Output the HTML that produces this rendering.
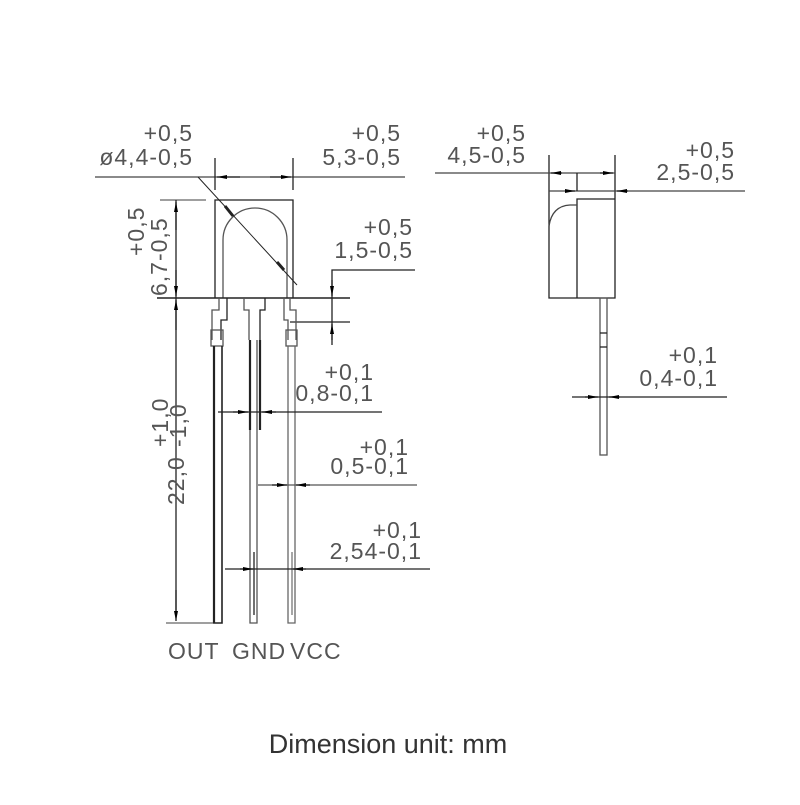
<!DOCTYPE html>
<html><head><meta charset="utf-8"><style>
body{margin:0;background:#fff}
svg text{font-family:"Liberation Sans",sans-serif;fill:#555;font-size:23px}
</style></head><body>
<svg width="800" height="800" viewBox="0 0 800 800" xmlns="http://www.w3.org/2000/svg">
<defs>
<marker id="a" viewBox="0 0 10 4" refX="10" refY="2" markerWidth="10" markerHeight="4" orient="auto" markerUnits="userSpaceOnUse"><path d="M0,0L10,2L0,4z" fill="#000"/></marker>
</defs>
<g stroke="#222" stroke-width="1.3" fill="none">
<path d="M215,298V200H293V298"/>
<path d="M223,298V240A32,32 0 0 1 287,240V298" stroke="#555"/>
<line x1="157" y1="298" x2="350" y2="298" stroke-width="1.6"/>
<line x1="95" y1="177" x2="405" y2="177" stroke="#444"/>
<line x1="215" y1="158" x2="215" y2="190"/>
<line x1="293" y1="158" x2="293" y2="190"/>
<line x1="240" y1="177" x2="217" y2="177" marker-end="url(#a)"/>
<line x1="270" y1="177" x2="291" y2="177" marker-end="url(#a)"/>
<line x1="198" y1="177" x2="297" y2="285" stroke-width="1"/>
<line x1="225" y1="206" x2="233" y2="216" stroke-width="3"/>
<line x1="277" y1="262" x2="284" y2="270" stroke-width="3"/>
<line x1="160" y1="200" x2="206" y2="200" stroke="#666"/>
<line x1="176" y1="200" x2="176" y2="615"/>
<line x1="176" y1="230" x2="176" y2="202" marker-end="url(#a)"/>
<line x1="176" y1="270" x2="176" y2="296" marker-end="url(#a)"/>
<line x1="176" y1="330" x2="176" y2="300" marker-end="url(#a)"/>
<line x1="176" y1="590" x2="176" y2="621" marker-end="url(#a)"/>
<line x1="166" y1="623" x2="214" y2="623" stroke="#666"/>
<path d="M415,270H332V345"/>
<line x1="290" y1="322" x2="350" y2="322"/>
<line x1="332" y1="280" x2="332" y2="296" marker-end="url(#a)"/>
<line x1="332" y1="340" x2="332" y2="324" marker-end="url(#a)"/>
<path d="M219,298V310H212V340" stroke="#555"/>
<path d="M227,298V320H221V340"/>
<path d="M244,298V310H249V340" stroke="#555"/>
<path d="M265,298V310H260V340"/>
<path d="M284,298V320H288V340" stroke="#555"/>
<path d="M290,298V310H296V340" stroke="#555"/>
<rect x="211" y="330" width="12" height="16" stroke="#555"/>
<rect x="286" y="330" width="11" height="16" stroke="#555"/>
<path d="M214,346V623H222V346" stroke-width="1.6"/>
<line x1="214" y1="346" x2="214" y2="623" stroke-width="2.2"/>
<path d="M250,340V623H257V340" stroke="#555"/>
<line x1="250" y1="340" x2="250" y2="430" stroke-width="2.2"/>
<line x1="260" y1="340" x2="260" y2="430" stroke-width="2.2"/>
<line x1="254" y1="552" x2="254" y2="615"/>
<path d="M288,346V623H295V346" stroke="#666"/>
<line x1="292" y1="552" x2="292" y2="615" stroke="#777"/>
<line x1="218" y1="412" x2="382" y2="412"/>
<line x1="233" y1="412" x2="248" y2="412" marker-end="url(#a)"/>
<line x1="276" y1="412" x2="262" y2="412" marker-end="url(#a)"/>
<line x1="258" y1="485" x2="417" y2="485" stroke="#555"/>
<line x1="272" y1="485" x2="287" y2="485" marker-end="url(#a)"/>
<line x1="310" y1="485" x2="296" y2="485" marker-end="url(#a)"/>
<line x1="225" y1="569" x2="430" y2="569"/>
<line x1="240" y1="569" x2="253" y2="569" marker-end="url(#a)"/>
<line x1="306" y1="569" x2="293" y2="569" marker-end="url(#a)"/>
<path d="M549,155V298H615V155"/>
<path d="M577,298V199H615" />
<path d="M549,226Q552,206 570,205H577" stroke="#444"/>
<line x1="435" y1="173" x2="615" y2="173" stroke="#444"/>
<line x1="549" y1="191" x2="745" y2="191" stroke="#444"/>
<line x1="577" y1="173" x2="577" y2="191"/>
<line x1="562" y1="173" x2="551" y2="173" marker-end="url(#a)"/>
<line x1="600" y1="173" x2="613" y2="173" marker-end="url(#a)"/>
<line x1="565" y1="191" x2="575" y2="191" marker-end="url(#a)"/>
<line x1="628" y1="191" x2="617" y2="191" marker-end="url(#a)"/>
<rect x="600" y="298" width="7" height="157" stroke="#555"/>
<line x1="600" y1="333" x2="607" y2="333"/>
<line x1="600" y1="347" x2="607" y2="347"/>
<line x1="572" y1="397" x2="727" y2="397"/>
<line x1="585" y1="397" x2="598" y2="397" marker-end="url(#a)"/>
<line x1="620" y1="397" x2="609" y2="397" marker-end="url(#a)"/>
</g>
<g text-anchor="end" letter-spacing="1">
<text x="193" y="141">+0,5</text>
<text x="193" y="165">ø4,4-0,5</text>
<text x="401" y="141">+0,5</text>
<text x="401" y="165">5,3-0,5</text>
<text x="413" y="235">+0,5</text>
<text x="413" y="258">1,5-0,5</text>
<text x="374" y="380">+0,1</text>
<text x="374" y="401">0,8-0,1</text>
<text x="409" y="455">+0,1</text>
<text x="409" y="474">0,5-0,1</text>
<text x="422" y="538">+0,1</text>
<text x="422" y="559">2,54-0,1</text>
<text x="526" y="141">+0,5</text>
<text x="526" y="163">4,5-0,5</text>
<text x="735" y="158">+0,5</text>
<text x="735" y="180">2,5-0,5</text>
<text x="718" y="363">+0,1</text>
<text x="718" y="386">0,4-0,1</text>
</g>
<g letter-spacing="1">
<text transform="translate(167,296) rotate(-90)">6,7-0,5</text>
<text transform="translate(144,256) rotate(-90)">+0,5</text>
<text transform="translate(184,505) rotate(-90)">22,0</text>
<text transform="translate(168,447) rotate(-90)" font-size="19">+1,0</text>
<text transform="translate(186,447) rotate(-90)" font-size="19">-1,0</text>
</g>
<text x="168" y="659" font-size="21" letter-spacing="1">OUT</text>
<text x="232" y="659" font-size="21" letter-spacing="1">GND</text>
<text x="290" y="659" font-size="21" letter-spacing="1">VCC</text>
<text x="388" y="753" text-anchor="middle" style="fill:#333;font-size:27px">Dimension unit: mm</text>
</svg>
</body></html>
